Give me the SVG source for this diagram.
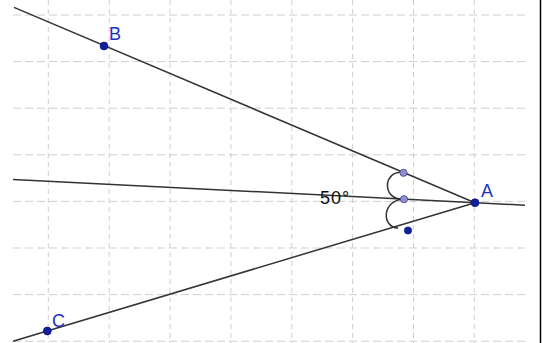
<svg xmlns="http://www.w3.org/2000/svg" width="544" height="343" viewBox="0 0 544 343">
<defs>
<style>
.gh{stroke:#cfcfcf;stroke-width:1;stroke-dasharray:8 4;fill:none}
.gv{stroke:#cfcfcf;stroke-width:1;stroke-dasharray:5 4;fill:none}
.ln{stroke:#333;stroke-width:1.5;fill:none}
.pt{fill:#101ea0;stroke:#0a1480;stroke-width:0.8}
.pl{fill:#9090cc;stroke:#404090;stroke-width:0.8}
.lb{font-family:"Liberation Sans",Arial,sans-serif;font-size:18px;fill:#2230c8}
.ang{font-family:"Liberation Sans",Arial,sans-serif;font-size:18px;fill:#111;letter-spacing:1px}
</style>
</defs>
<rect width="544" height="343" fill="#fff"/>
<g id="grid">
<path class="gh" d="M13 15H525M13 61.6H525M13 108.2H525M13 154.8H525M13 201.4H525M13 248H525M13 294.6H525M13 341.2H525"/>
<path class="gv" d="M48.3 0V343M109.2 0V343M170 0V343M230.9 0V343M291.8 0V343M352.6 0V343M413.5 0V343M474.3 0V343"/>
</g>
<line x1="540.5" y1="0" x2="540.5" y2="343" stroke="#000" stroke-width="1.5"/>
<g id="connectors">
<line class="ln" x1="14" y1="7.4" x2="475" y2="202.7"/>
<line class="ln" x1="13" y1="179.4" x2="525" y2="205.2"/>
<line class="ln" x1="13" y1="341.2" x2="475" y2="202.7"/>
<path class="ln" d="M403.5 172.5C382 170 382 201 404 199"/>
<path class="ln" d="M404 199C382 200 381 227 398 228"/>
</g>
<g id="angle-label"><text class="ang" x="320" y="204">50°</text></g>
<g id="P1"><circle class="pl" cx="403.5" cy="172.8" r="3.6"/></g>
<g id="P2"><circle class="pl" cx="404" cy="199.2" r="3.6"/></g>
<g id="P3"><circle class="pt" cx="408" cy="230.5" r="3.6"/></g>
<g id="A"><circle class="pt" cx="475" cy="202.7" r="3.9"/><text class="lb" x="481" y="197">A</text></g>
<g id="B"><circle class="pt" cx="104" cy="46" r="3.9"/><text class="lb" x="109" y="40">B</text></g>
<g id="C"><circle class="pt" cx="47.3" cy="331" r="3.9"/><text class="lb" x="52" y="327">C</text></g>
</svg>
